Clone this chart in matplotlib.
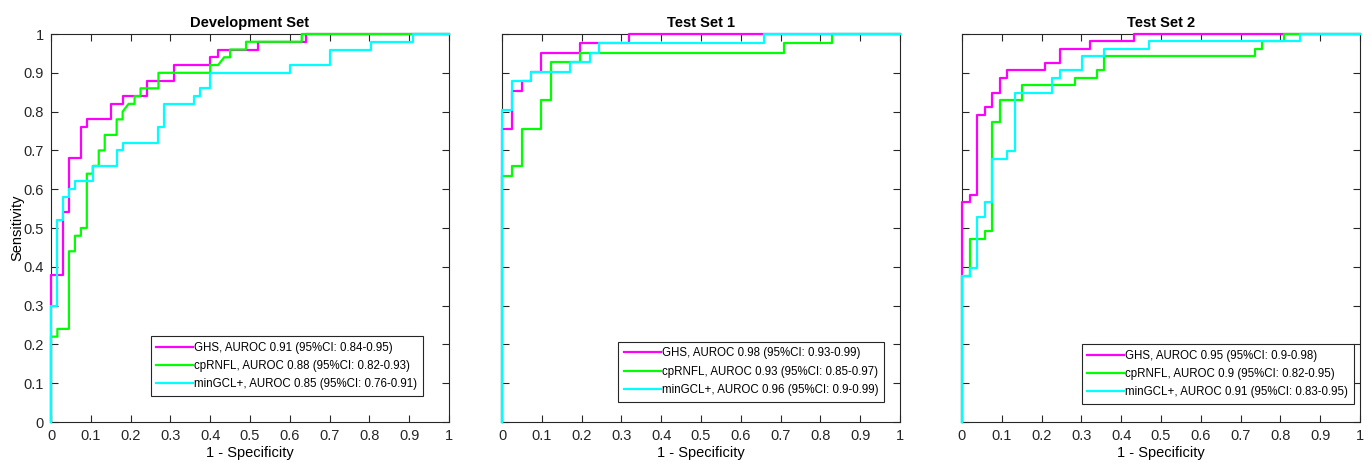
import matplotlib
matplotlib.use("Agg")
import matplotlib.pyplot as plt
import numpy as np

plt.rcParams['font.family'] = ['Liberation Sans', 'DejaVu Sans']

titles = ["Development Set", "Test Set 1", "Test Set 2"]
names = ["GHS", "cpRNFL", "minGCL+"]
colors = ["#ff00ff", "#00ff00", "#00ffff"]

# ROC vertices (fpr, tpr) per set and per marker
dev_ghs_x = [0, 0, 0, 0.03, 0.03, 0.045, 0.045, 0.075, 0.075, 0.09, 0.09, 0.15, 0.15, 0.18, 0.18, 0.24, 0.24, 0.31, 0.31, 0.40, 0.40, 0.42, 0.42, 0.52, 0.52, 0.64, 0.64, 1]
dev_ghs_y = [0, 0.30, 0.38, 0.38, 0.54, 0.54, 0.68, 0.68, 0.76, 0.76, 0.78, 0.78, 0.82, 0.82, 0.84, 0.84, 0.88, 0.88, 0.92, 0.92, 0.94, 0.94, 0.96, 0.96, 0.98, 0.98, 1, 1]
dev_rnfl_x = [0, 0, 0.016, 0.016, 0.045, 0.045, 0.06, 0.06, 0.075, 0.075, 0.09, 0.09, 0.105, 0.105, 0.12, 0.12, 0.135, 0.135, 0.165, 0.165, 0.18, 0.18, 0.195, 0.21, 0.21, 0.225, 0.225, 0.27, 0.27, 0.40, 0.40, 0.42, 0.435, 0.45, 0.45, 0.49, 0.49, 0.63, 0.63, 1]
dev_rnfl_y = [0, 0.22, 0.22, 0.24, 0.24, 0.44, 0.44, 0.48, 0.48, 0.50, 0.50, 0.64, 0.64, 0.66, 0.66, 0.70, 0.70, 0.74, 0.74, 0.78, 0.78, 0.80, 0.82, 0.82, 0.84, 0.84, 0.86, 0.86, 0.90, 0.90, 0.92, 0.92, 0.94, 0.94, 0.96, 0.96, 0.98, 0.98, 1, 1]
dev_gcl_x = [0, 0, 0.016, 0.016, 0.03, 0.03, 0.045, 0.045, 0.06, 0.06, 0.105, 0.105, 0.165, 0.165, 0.18, 0.18, 0.27, 0.27, 0.285, 0.285, 0.36, 0.36, 0.375, 0.375, 0.40, 0.40, 0.60, 0.60, 0.70, 0.70, 0.805, 0.805, 0.91, 0.91, 1]
dev_gcl_y = [0, 0.30, 0.30, 0.52, 0.52, 0.58, 0.58, 0.60, 0.60, 0.62, 0.62, 0.66, 0.66, 0.70, 0.70, 0.72, 0.72, 0.76, 0.76, 0.82, 0.82, 0.84, 0.84, 0.86, 0.86, 0.90, 0.90, 0.92, 0.92, 0.96, 0.96, 0.98, 0.98, 1, 1]

t1_ghs_x = [0, 0, 0.024, 0.024, 0.049, 0.049, 0.073, 0.073, 0.097, 0.097, 0.195, 0.195, 0.318, 0.318, 1]
t1_ghs_y = [0, 0.756, 0.756, 0.854, 0.854, 0.878, 0.878, 0.902, 0.902, 0.951, 0.951, 0.976, 0.976, 1, 1]
t1_rnfl_x = [0, 0, 0.024, 0.024, 0.049, 0.049, 0.097, 0.097, 0.122, 0.122, 0.195, 0.195, 0.708, 0.708, 0.83, 0.83, 1]
t1_rnfl_y = [0, 0.634, 0.634, 0.659, 0.659, 0.756, 0.756, 0.829, 0.829, 0.927, 0.927, 0.951, 0.951, 0.976, 0.976, 1, 1]
t1_gcl_x = [0, 0, 0.024, 0.024, 0.073, 0.073, 0.171, 0.171, 0.22, 0.22, 0.244, 0.244, 0.658, 0.658, 1]
t1_gcl_y = [0, 0.805, 0.805, 0.878, 0.878, 0.902, 0.902, 0.927, 0.927, 0.951, 0.951, 0.976, 0.976, 1, 1]

t2_ghs_x = [0, 0, 0.019, 0.019, 0.038, 0.038, 0.057, 0.057, 0.075, 0.075, 0.095, 0.095, 0.114, 0.114, 0.208, 0.208, 0.245, 0.245, 0.321, 0.321, 0.433, 0.433, 1]
t2_ghs_y = [0, 0.566, 0.566, 0.585, 0.585, 0.792, 0.792, 0.811, 0.811, 0.849, 0.849, 0.887, 0.887, 0.906, 0.906, 0.925, 0.925, 0.962, 0.962, 0.981, 0.981, 1, 1]
t2_rnfl_x = [0, 0, 0.019, 0.019, 0.057, 0.057, 0.075, 0.075, 0.095, 0.095, 0.151, 0.151, 0.283, 0.283, 0.34, 0.34, 0.358, 0.358, 0.735, 0.735, 0.754, 0.754, 0.81, 0.81, 1]
t2_rnfl_y = [0, 0.377, 0.377, 0.472, 0.472, 0.491, 0.491, 0.774, 0.774, 0.830, 0.830, 0.868, 0.868, 0.887, 0.887, 0.906, 0.906, 0.943, 0.943, 0.962, 0.962, 0.981, 0.981, 1, 1]
t2_gcl_x = [0, 0, 0.019, 0.019, 0.038, 0.038, 0.057, 0.057, 0.075, 0.075, 0.114, 0.114, 0.132, 0.132, 0.227, 0.227, 0.245, 0.245, 0.302, 0.302, 0.358, 0.358, 0.471, 0.471, 0.848, 0.848, 1]
t2_gcl_y = [0, 0.377, 0.377, 0.396, 0.396, 0.528, 0.528, 0.566, 0.566, 0.679, 0.679, 0.698, 0.698, 0.849, 0.849, 0.887, 0.887, 0.906, 0.906, 0.943, 0.943, 0.962, 0.962, 0.981, 0.981, 1, 1]

auroc = [["0.91", "0.88", "0.85"], ["0.98", "0.93", "0.96"], ["0.95", "0.9", "0.91"]]
ci = [["0.84-0.95", "0.82-0.93", "0.76-0.91"], ["0.93-0.99", "0.85-0.97", "0.9-0.99"], ["0.9-0.98", "0.82-0.95", "0.83-0.95"]]

curves = [
    [(dev_ghs_x, dev_ghs_y), (dev_rnfl_x, dev_rnfl_y), (dev_gcl_x, dev_gcl_y)],
    [(t1_ghs_x, t1_ghs_y), (t1_rnfl_x, t1_rnfl_y), (t1_gcl_x, t1_gcl_y)],
    [(t2_ghs_x, t2_ghs_y), (t2_rnfl_x, t2_rnfl_y), (t2_gcl_x, t2_gcl_y)],
]

fig = plt.figure(figsize=(13.72, 4.68), dpi=100)
lefts = [51 / 1372, 502 / 1372, 962 / 1372]
legend_anchor = [(0.935, 0.067), (0.96, 0.052), (0.985, 0.046)]
ticks = np.round(np.arange(0, 1.01, 0.1), 1)
ticklabels = ["0"] + ["%.1f" % t for t in ticks[1:-1]] + ["1"]

for i in range(3):
    ax = fig.add_axes([lefts[i], 1 - 422 / 468, 398 / 1372, 388 / 468])
    for j in range(3):
        x, y = curves[i][j]
        ax.plot(x, y, color=colors[j], lw=1.6, clip_on=False, zorder=3 + j,
                label="%s, AUROC %s (95%%CI: %s)" % (names[j], auroc[i][j], ci[i][j]))
    ax.set_xlim(0, 1)
    ax.set_ylim(0, 1)
    ax.set_xticks(ticks)
    ax.set_xticklabels(ticklabels)
    ax.set_yticks(ticks)
    if i == 0:
        ax.set_yticklabels(ticklabels)
        ax.set_ylabel("Sensitivity", fontsize=10.5)
        ax.yaxis.set_label_coords(-0.066, 0.5)
    else:
        ax.set_yticklabels([])
    ax.tick_params(direction="in", top=True, right=True, labelsize=10.5, length=5, width=0.8, colors="#262626", pad=5)
    for s in ax.spines.values():
        s.set_color("#262626")
        s.set_linewidth(0.8)
        s.set_zorder(2)
    ax.set_xlabel("1 - Specificity", fontsize=10.5, labelpad=2)
    ax.set_title(titles[i], fontsize=10.5, fontweight="bold", pad=5)
    leg = ax.legend(loc="lower right", bbox_to_anchor=legend_anchor[i], fontsize=8.3,
                    fancybox=False, framealpha=1, edgecolor="#262626", handlelength=3.2,
                    borderpad=0.5, labelspacing=0.55, handletextpad=0.1, borderaxespad=0)
    leg.get_frame().set_linewidth(0.8)
    leg.set_zorder(10)

fig.savefig("out.png", dpi=100)
